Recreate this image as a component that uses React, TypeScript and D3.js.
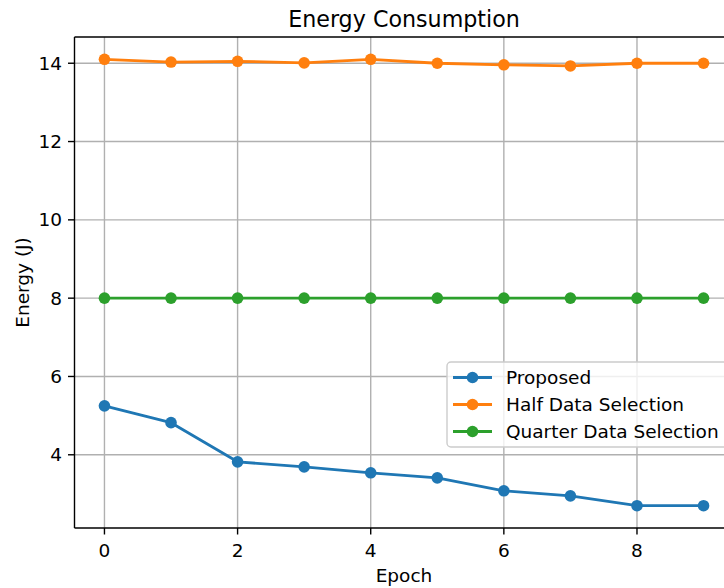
import React from "react";
import * as d3 from "d3";

const epochs = [0, 1, 2, 3, 4, 5, 6, 7, 8, 9];
const proposed = [5.25, 4.82, 3.82, 3.69, 3.54, 3.41, 3.08, 2.95, 2.7, 2.7];
const halfData = [14.1, 14.03, 14.05, 14.01, 14.1, 14.0, 13.96, 13.93, 14.0, 14.0];
const quarterData = [8, 8, 8, 8, 8, 8, 8, 8, 8, 8];
const seriesNames = ["Proposed", "Half Data Selection", "Quarter Data Selection"];
const seriesColors = ["#1f77b4", "#ff7f0e", "#2ca02c"];
const xTicks = [0, 2, 4, 6, 8];
const yTicks = [4, 6, 8, 10, 12, 14];

const W = 724;
const H = 588;
const left = 74.5;
const right = 733.5;
const top = 37;
const bottom = 528;
const font = "DejaVu Sans, sans-serif";
const fs = 18.5;

const App = () => {
  const all = [...proposed, ...halfData, ...quarterData];
  const yMin = d3.min(all)!;
  const yMax = d3.max(all)!;
  const yPad = (yMax - yMin) * 0.05;
  const x = d3.scaleLinear().domain([-0.45, 9.45]).range([left, right]);
  const y = d3.scaleLinear().domain([yMin - yPad, yMax + yPad]).range([bottom, top]);

  const line = d3
    .line<number>()
    .x((_, i) => x(epochs[i]))
    .y((d) => y(d));

  const series = [proposed, halfData, quarterData];

  const legX = 447;
  const legY = 362;
  const cx = (left + right) / 2;

  return (
    <svg
      width={W}
      height={H}
      style={{ position: "absolute", left: 0, top: 0, background: "#fff" }}
      fontFamily={font}
    >
      <rect width={W} height={H} fill="#fff" />
      <defs>
        <clipPath id="plot">
          <rect x={left} y={top} width={right - left} height={bottom - top} />
        </clipPath>
      </defs>

      {/* grid */}
      <g stroke="#b0b0b0" strokeWidth={1.4}>
        {xTicks.map((t) => (
          <line key={"gx" + t} x1={x(t)} x2={x(t)} y1={top} y2={bottom} />
        ))}
        {yTicks.map((t) => (
          <line key={"gy" + t} x1={left} x2={right} y1={y(t)} y2={y(t)} />
        ))}
      </g>

      {/* series */}
      <g clipPath="url(#plot)">
        {series.map((s, k) => (
          <g key={k}>
            <path d={line(s)!} fill="none" stroke={seriesColors[k]} strokeWidth={2.8} strokeLinejoin="round" />
            {s.map((v, i) => (
              <circle key={i} cx={x(epochs[i])} cy={y(v)} r={5.8} fill={seriesColors[k]} />
            ))}
          </g>
        ))}
      </g>

      {/* spines */}
      <g stroke="#000" strokeWidth={1.4} fill="none">
        <line x1={left} x2={left} y1={top} y2={bottom} />
        <line x1={left} x2={right} y1={bottom} y2={bottom} />
        <line x1={left} x2={right} y1={top} y2={top} />
      </g>

      {/* ticks */}
      <g fontSize={fs} fill="#000">
        {xTicks.map((t) => (
          <g key={"tx" + t}>
            <line x1={x(t)} x2={x(t)} y1={bottom} y2={bottom + 6.5} stroke="#000" strokeWidth={1.4} />
            <text x={x(t)} y={bottom + 22} textAnchor="middle" dominantBaseline="central">
              {t}
            </text>
          </g>
        ))}
        {yTicks.map((t) => (
          <g key={"ty" + t}>
            <line x1={left - 6.5} x2={left} y1={y(t)} y2={y(t)} stroke="#000" strokeWidth={1.4} />
            <text x={left - 12.5} y={y(t)} textAnchor="end" dominantBaseline="central">
              {t}
            </text>
          </g>
        ))}
      </g>

      <text x={cx} y={575} textAnchor="middle" fontSize={fs} dominantBaseline="central">
        Epoch
      </text>
      <text
        transform={`translate(22,${(top + bottom) / 2}) rotate(-90)`}
        textAnchor="middle"
        fontSize={fs}
        dominantBaseline="central"
      >
        Energy (J)
      </text>
      <text x={cx} y={19} textAnchor="middle" fontSize={22.2} dominantBaseline="central">
        Energy Consumption
      </text>

      {/* legend */}
      <g>
        <rect
          x={legX}
          y={legY}
          width={290}
          height={85}
          rx={4}
          fill="#fff"
          fillOpacity={0.8}
          stroke="#cccccc"
          strokeWidth={1.4}
        />
        {seriesNames.map((n, k) => {
          const cy = legY + 15.5 + k * 27;
          return (
            <g key={n}>
              <line x1={legX + 6} x2={legX + 45} y1={cy} y2={cy} stroke={seriesColors[k]} strokeWidth={2.8} />
              <circle cx={legX + 25.5} cy={cy} r={5.8} fill={seriesColors[k]} />
              <text x={legX + 59} y={cy} fontSize={fs} dominantBaseline="central">
                {n}
              </text>
            </g>
          );
        })}
      </g>
    </svg>
  );
};

export default App;
